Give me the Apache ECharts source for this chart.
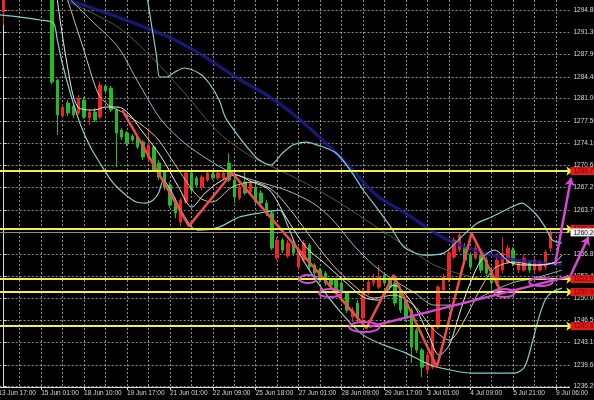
<!DOCTYPE html>
<html>
<head>
<meta charset="utf-8">
<script src="https://cdn.jsdelivr.net/npm/echarts@6/dist/echarts.min.js"></script>
<style>
html,body{margin:0;padding:0;background:#000;}
#chart{width:594px;height:400px;}
</style>
</head>
<body>
<div id="chart"></div>
<script>
// Gold H4 chart, 13 Jun – 9 Jul: candles, Bollinger bands, moving averages and drawn levels.

// time labels, one every 8 bars
const dateLabels = ['13 Jun 17:00','15 Jun 01:00','18 Jun 10:00','19 Jun 17:00','21 Jun 01:00','22 Jun 09:00','25 Jun 18:00','27 Jun 01:00','28 Jun 09:00','29 Jun 17:00','3 Jul 01:00','4 Jul 09:00','5 Jul 21:00','9 Jul 06:00'];

// price scale ticks
const priceTicks = [1236.2,1239.6,1243.1,1246.5,1250.0,1253.4,1256.8,1260.3,1263.7,1267.2,1270.6,1274.1,1277.5,1281.0,1284.4,1287.9,1291.3,1294.8];

// OHLC per bar (null = bar above the visible range)
const opens = [null,1294.48,null,null,null,null,null,null,null,null,
  1297.13,1283.90,1278.30,1280.32,1279.86,1278.77,1280.79,1277.99,1278.92,1278.15,
  1282.97,1282.66,1279.23,1276.12,1275.66,1275.19,1275.03,1274.25,1271.77,1273.48,
  1270.99,1269.59,1267.56,1264.92,1261.81,1264.92,1269.43,1268.65,1267.25,1268.34,
  1269.28,1268.65,1268.65,1270.99,1268.34,1265.54,1268.03,1266.48,1267.25,1266.32,
  1264.76,1263.21,1256.20,1259.01,1256.52,1258.54,1254.80,1255.89,1258.23,1255.12,
  1254.34,1253.87,1252.79,1252.79,1252.32,1250.76,1247.02,1249.20,1246.87,1250.76,
  1252.32,1251.69,1253.56,1252.79,1252.32,1251.23,1249.67,1248.11,1244.98,1241.89,
  1238.78,1239.24,1245.47,1251.23,1252.79,1256.36,1257.45,1257.92,1256.67,1256.20,
  1256.67,1255.89,1254.34,1252.32,1254.34,1255.58,1257.45,1254.34,1254.34,1255.58,
  1254.34,1254.34,1254.80,1257.76,null,null,null];
const closes = [null,1297.90,null,null,null,null,null,null,null,null,
  1283.59,1278.46,1279.70,1278.77,1278.46,1281.10,1278.15,1278.92,1277.68,1283.12,
  1282.19,1279.23,1275.66,1275.03,1274.10,1274.57,1273.48,1271.92,1273.79,1269.90,
  1268.81,1267.25,1264.45,1263.21,1265.23,1269.43,1266.79,1267.56,1268.81,1269.43,
  1268.65,1269.43,1269.43,1268.34,1265.70,1267.25,1266.32,1267.87,1264.92,1264.76,
  1263.21,1257.76,1259.01,1257.45,1258.54,1256.98,1257.45,1258.54,1254.80,1253.87,
  1252.79,1252.32,1252.00,1251.23,1250.76,1248.11,1248.11,1246.87,1250.92,1252.48,
  1253.10,1253.25,1252.32,1251.69,1249.20,1248.11,1246.87,1242.36,1241.89,1239.24,
  1241.11,1245.47,1251.69,1253.25,1256.98,1259.01,1259.78,1255.89,1254.80,1257.76,
  1254.34,1253.87,1252.32,1255.89,1256.98,1257.76,1255.43,1255.43,1256.20,1254.34,
  1255.89,1255.43,1257.14,1260.20,null,null,null];
const lows = [null,1292.46,null,null,null,null,null,null,null,null,
  1283.28,1275.34,1277.99,1278.30,1277.99,1278.46,1277.83,1276.90,1277.37,1277.83,
  1281.88,1278.92,1270.37,1274.57,1273.63,1274.25,1273.17,1271.45,1271.45,1269.59,
  1268.34,1266.79,1263.98,1262.43,1261.18,1264.61,1266.32,1267.10,1266.79,1268.03,
  1268.34,1268.34,1268.34,1268.03,1264.76,1265.23,1266.01,1266.01,1264.61,1264.30,
  1262.74,1257.45,1255.89,1256.98,1256.20,1256.52,1254.34,1255.58,1254.34,1253.40,
  1252.32,1251.85,1251.54,1250.76,1250.29,1247.65,1246.25,1246.25,1246.25,1250.45,
  1251.85,1251.38,1252.00,1251.23,1248.74,1247.65,1246.40,1239.87,1241.42,1237.69,
  1238.31,1238.93,1245.16,1250.76,1252.48,1256.05,1257.14,1255.43,1254.34,1255.89,
  1253.87,1253.40,1250.76,1251.85,1253.87,1255.27,1254.96,1253.87,1254.03,1253.87,
  1253.87,1254.03,1254.34,1257.14,null,null,null];
const highs = [null,1299.46,null,null,null,null,null,null,null,null,
  1298.68,1284.06,1280.17,1280.79,1280.32,1281.57,1281.26,1279.23,1279.55,1283.59,
  1283.28,1282.97,1279.55,1276.43,1275.97,1275.50,1275.34,1274.57,1276.43,1273.79,
  1271.45,1269.90,1268.03,1265.54,1265.54,1269.90,1269.74,1268.96,1269.12,1269.74,
  1269.59,1269.74,1269.74,1272.54,1268.65,1267.72,1269.59,1268.19,1267.56,1266.79,
  1265.23,1263.67,1259.47,1259.32,1259.01,1259.01,1257.92,1259.01,1258.54,1255.43,
  1254.65,1254.18,1253.10,1253.10,1252.63,1251.07,1248.58,1249.67,1251.54,1252.94,
  1253.72,1255.12,1254.03,1253.10,1252.63,1251.54,1249.98,1248.42,1245.31,1242.20,
  1241.58,1245.78,1252.00,1253.72,1257.45,1259.47,1260.25,1258.54,1257.14,1258.23,
  1257.14,1256.36,1254.80,1256.36,1259.47,1258.23,1257.92,1255.89,1256.67,1255.89,
  1256.36,1255.89,1257.45,1260.88,null,null,null];

// indicator curves as [bar, price]; bar 0 = 13 Jun 21:00
const bbUpper = [[26.3,1297.9],[27.3,1292.46],[28.2,1287.79],[28.8,1284.37],[30.1,1284.37],[31.6,1285.15],[33.4,1285.77],[36.0,1284.99],[37.9,1283.44],[39.8,1280.79],[40.9,1278.15],[42.8,1275.81],[45.4,1273.01],[47.2,1271.45],[49.3,1270.68],[51.5,1272.54],[53.4,1273.79],[55.8,1274.25],[59.0,1273.48],[61.4,1272.54],[64.0,1269.90],[66.4,1266.79],[68.8,1264.14],[71.5,1261.03],[73.9,1257.92],[77.6,1256.67],[81.3,1256.98],[84.5,1259.47],[87.5,1261.65],[90.1,1262.59],[93.8,1264.14],[95.7,1264.76],[98.1,1263.21],[100.0,1261.03],[101.3,1259.01],[103.1,1258.54]];
const bbLower = [[-1.5,1294.1],[3.0,1293.70],[6.8,1293.24],[9.2,1292.77],[9.9,1290.13],[10.9,1286.24],[12.4,1281.57],[14.2,1276.90],[16.1,1273.32],[18.0,1270.68],[19.8,1268.34],[21.1,1267.10],[23.0,1265.70],[24.5,1264.92],[26.3,1264.76],[27.6,1265.23],[28.6,1266.32],[29.5,1268.34],[31.0,1266.48],[32.9,1263.36],[34.7,1261.03],[36.0,1260.56],[39.8,1261.03],[43.5,1262.59],[47.2,1263.21],[51.0,1263.67],[52.4,1261.34],[54.3,1257.45],[56.2,1254.65],[59.0,1251.23],[62.7,1247.34],[66.4,1244.22],[70.2,1242.67],[73.9,1241.58],[77.6,1240.02],[80.0,1239.25],[86.4,1238.31],[94.4,1238.31],[96.2,1239.25],[97.6,1242.98],[98.7,1246.56],[100.0,1249.67],[101.3,1250.92],[103.1,1251.54]];
const bbMiddle = [[12.4,1296.35],[16.1,1293.24],[21.1,1289.04],[24.9,1283.44],[29.1,1277.68],[33.4,1274.10],[37.9,1271.45],[42.2,1269.43],[47.2,1268.03],[52.1,1266.79],[57.1,1264.76],[60.8,1262.12],[64.6,1258.23],[68.3,1255.12],[72.0,1252.79],[75.7,1250.92],[79.5,1248.89],[83.2,1248.89],[86.9,1249.67],[90.7,1251.23],[94.4,1252.47],[98.1,1253.09],[103.1,1254.34]];
const maFast = [[9.9,1296.35],[11.8,1285.92],[13.7,1279.70],[16.7,1279.23],[18.9,1279.70],[21.1,1279.70],[23.0,1278.77],[25.4,1276.12],[29.1,1271.92],[32.3,1267.25],[34.7,1264.14],[37.2,1266.32],[39.8,1268.03],[42.8,1269.12],[45.9,1268.03],[49.1,1266.79],[52.1,1262.59],[55.8,1257.92],[59.0,1255.58],[62.7,1252.79],[66.4,1250.14],[69.2,1249.67],[72.0,1252.00],[75.7,1248.89],[78.5,1244.22],[80.4,1241.11],[82.3,1242.67],[84.1,1247.34],[86.0,1252.00],[88.4,1256.20],[90.7,1257.45],[93.4,1255.58],[96.2,1255.12],[99.0,1255.12],[101.8,1255.58],[103.1,1256.67]];
const maMid = [[11.8,1296.35],[14.8,1288.57],[17.4,1281.88],[19.3,1280.01],[22.2,1278.77],[26.0,1276.59],[28.6,1274.57],[32.3,1269.90],[36.0,1265.70],[38.5,1264.92],[42.2,1267.25],[45.9,1268.03],[49.6,1266.79],[53.4,1263.21],[57.1,1259.01],[60.8,1255.12],[64.6,1252.00],[68.3,1249.98],[72.0,1250.45],[75.7,1248.89],[79.5,1245.00],[82.3,1243.45],[85.1,1246.56],[87.9,1251.23],[90.7,1254.65],[94.4,1255.58],[98.1,1255.12],[103.1,1255.58]];
const maSlow = [[12.4,1295.88],[21.1,1292.15],[27.3,1287.48],[33.4,1281.88],[39.8,1275.66],[45.9,1271.92],[52.1,1269.43],[57.1,1267.25],[62.7,1264.45],[68.3,1261.34],[73.9,1258.23],[79.5,1255.12],[85.1,1253.56],[90.7,1252.79],[96.2,1252.79],[103.1,1253.56]];
const maTrend = [[11.8,1296.35],[21.1,1293.70],[30.4,1290.60],[36.6,1287.80],[42.8,1284.37],[49.1,1281.30],[55.2,1277.40],[62.7,1271.45],[68.8,1266.01],[73.9,1263.36],[81.3,1259.32],[86.9,1257.45],[92.5,1256.20],[98.1,1255.58],[103.1,1255.12]];

// drawn objects
const swingPath = [[21.9,1279.23],[34.2,1261.18],[42.2,1269.43],[67.0,1245.31],[72.0,1253.56],[80.0,1239.25],[86.4,1260.09],[92.0,1250.76]];
const supportLine = [[67.5,1245.5],[104.6,1253.4]];
const upArrows = [[[101.8,1255.1],[104.8,1268.7]],[[104.6,1253.3],[108.0,1259.5]]];
const levels = [1269.74,1260.72,1252.94,1250.92,1245.62];
const bidPrice = 1260.20;
const zoneBar = [56.2,60.3,66.6,92.5,99.2];
const zonePrice = [1252.94,1250.76,1245.47,1250.76,1252.47];
const zoneSpanBars = [3.2,4.1,5.6,3.7,4.3];
const zoneSpanPrice = [1.25,1.25,1.55,1.25,1.25];

const FONT = 'Liberation Sans';
const TEXT = '#d8d8d8';
const GRID_LINE = {color: 'rgba(190,190,190,0.75)', type: [2, 2], width: 1};

const candleData = opens.map((o, i) => o == null ? ['-', '-', '-', '-'] : [o, closes[i], lows[i], highs[i]]);
const barSlots = opens.map((_, i) => i);
const firstBar = -1.5, lastBar = opens.length - 2.5;

const chart = echarts.init(document.getElementById('chart'), null, {renderer: 'canvas'});

function curve(name, data, color, width, extra) {
  return Object.assign({
    name, type: 'line', xAxisIndex: 1, yAxisIndex: 0, data,
    showSymbol: false, smooth: 0.3, clip: true, z: 3,
    lineStyle: {color, width}, silent: true
  }, extra || {});
}

chart.setOption({
  backgroundColor: '#000',
  animation: false,
  grid: {left: -4.4, right: 24.5, top: 0, bottom: 13, containLabel: false, outerBoundsMode: 'none'},
  xAxis: [{
    type: 'category', data: barSlots, boundaryGap: true,
    axisLine: {show: true, lineStyle: {color: TEXT, width: 1}},
    axisTick: {show: true, interval: 7, alignWithLabel: true, length: 3, lineStyle: {color: TEXT}},
    axisLabel: {interval: 7, align: 'left', margin: 3, fontSize: 6.5, color: TEXT, fontFamily: FONT,
      formatter: (v, i) => dateLabels[i / 8] || ''},
    splitLine: {show: true, interval: 3, alignWithLabel: true, lineStyle: GRID_LINE}
  }, {
    type: 'value', min: firstBar, max: lastBar, show: false
  }],
  yAxis: [{
    type: 'value', position: 'right', min: 1236.15, max: 1296.35, scale: true,
    axisLine: {show: true, lineStyle: {color: TEXT, width: 1}},
    axisTick: {show: true, customValues: priceTicks, length: 3, lineStyle: {color: TEXT}},
    axisLabel: {customValues: priceTicks, margin: 4, fontSize: 6.5, color: TEXT, fontFamily: FONT,
      formatter: v => v.toFixed(2)},
    splitLine: {show: true, lineStyle: GRID_LINE}
  }, {
    type: 'value', position: 'right', min: 1236.15, max: 1296.35, z: 6,
    axisLine: {show: false}, axisTick: {show: false}, splitLine: {show: false},
    axisLabel: {customValues: levels.concat([bidPrice]), margin: 1, fontFamily: FONT,
      formatter: v => (v === bidPrice ? '{w|' : '{r|') + v.toFixed(2) + '}',
      rich: {
        r: {backgroundColor: '#e01c1c', color: '#7a0000', fontSize: 6.5, lineHeight: 7, padding: [1, 3, 0, 3]},
        w: {backgroundColor: '#f2f2f2', color: '#111', fontSize: 6.5, lineHeight: 7, padding: [1, 3, 0, 3]}
      }}
  }],
  series: [
    {
      name: 'price', type: 'candlestick', xAxisIndex: 0, yAxisIndex: 0,
      data: candleData, barWidth: 3, clip: true, z: 2,
      itemStyle: {color: '#f02424', color0: '#22bb22', borderColor: '#f02424', borderColor0: '#22bb22', borderWidth: 1}
    },
    curve('MA trend', maTrend, '#22228a', 3, {lineStyle: {color: 'rgba(32,32,140,0.75)', width: 3, shadowBlur: 4, shadowColor: 'rgba(40,40,160,0.5)'}}),
    curve('MA slow', maSlow, '#5c5c2a', 1),
    curve('BB upper', bbUpper, '#86cccc', 1.2, {smooth: 0.25}),
    curve('BB lower', bbLower, '#86cccc', 1.2, {smooth: 0.25}),
    curve('BB middle', bbMiddle, '#9fb6c4', 1),
    curve('MA mid', maMid, '#d9c98f', 1),
    curve('MA fast', maFast, '#ececec', 1),
    {
      name: 'swing', type: 'line', xAxisIndex: 1, yAxisIndex: 0, data: swingPath,
      showSymbol: false, z: 4, lineStyle: {color: '#ee4b4b', width: 2.5}, silent: true
    },
    {
      name: 'bid', type: 'lines', coordinateSystem: 'cartesian2d', xAxisIndex: 1, yAxisIndex: 0, z: 3,
      data: [{coords: [[firstBar, bidPrice], [lastBar, bidPrice]]}],
      lineStyle: {color: '#8e8e8e', width: 1, opacity: 1}, silent: true
    },
    {
      name: 'levels', type: 'lines', coordinateSystem: 'cartesian2d', xAxisIndex: 1, yAxisIndex: 0, z: 5,
      data: levels.map(p => ({coords: [[firstBar, p], [105.2, p]]})),
      symbol: ['none', 'arrow'], symbolSize: 7,
      lineStyle: {color: '#f4f23c', width: 2, opacity: 1}, silent: true
    },
    {
      name: 'support', type: 'lines', coordinateSystem: 'cartesian2d', xAxisIndex: 1, yAxisIndex: 0, z: 5,
      data: [{coords: supportLine}], clip: false,
      lineStyle: {color: '#d648d6', width: 2.5, opacity: 1}, silent: true
    },
    {
      name: 'targets', type: 'lines', coordinateSystem: 'cartesian2d', xAxisIndex: 1, yAxisIndex: 0, z: 5,
      data: upArrows.map(c => ({coords: c})), clip: false,
      symbol: ['none', 'arrow'], symbolSize: 8,
      lineStyle: {color: '#d648d6', width: 2.5, opacity: 1}, silent: true
    },
    {
      name: 'zones', type: 'custom', xAxisIndex: 1, yAxisIndex: 0, z: 6, silent: true,
      data: zoneBar.map((b, i) => [b, zonePrice[i], zoneSpanBars[i], zoneSpanPrice[i]]),
      renderItem: (params, api) => {
        const c = api.coord([api.value(0), api.value(1)]);
        const s = api.size([api.value(2), api.value(3)]);
        return {type: 'ellipse', shape: {cx: c[0], cy: c[1], rx: s[0] / 2, ry: s[1] / 2},
          style: {fill: 'none', stroke: '#d648d6', lineWidth: 2}};
      }
    }
  ]
});
</script>
</body>
</html>
